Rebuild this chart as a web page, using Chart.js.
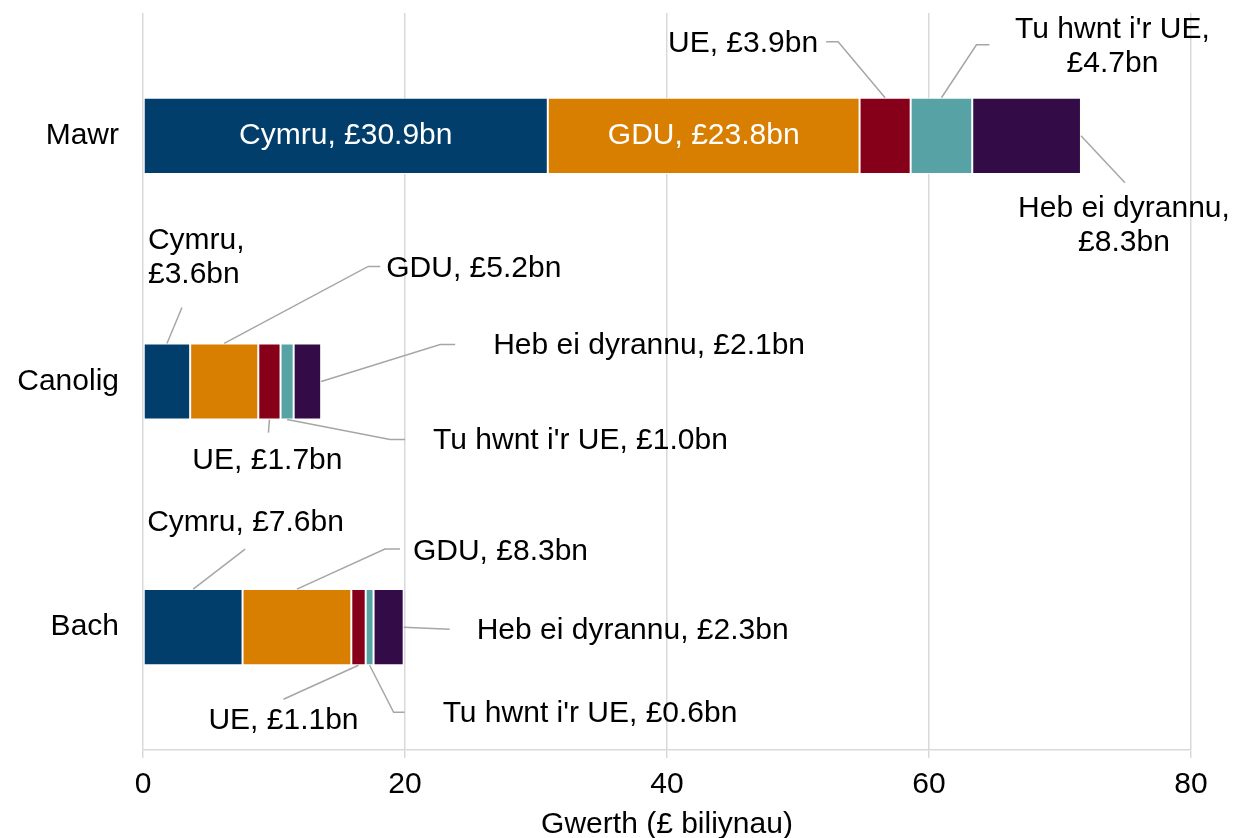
<!DOCTYPE html>
<html>
<head>
<meta charset="utf-8">
<script src="https://cdn.jsdelivr.net/npm/chart.js@4"></script>
<style>
  html, body { margin: 0; padding: 0; background: #fff; }
  #wrap { width: 1244px; height: 838px; }
</style>
</head>
<body>
<div id="wrap"><canvas id="chart" width="1244" height="838"></canvas></div>
<script>
// Categories and series
const categories = ["Mawr", "Canolig", "Bach"];
const seriesNames = ["Cymru", "GDU", "UE", "Tu hwnt i'r UE", "Heb ei dyrannu"];
const cymru = [30.9, 3.6, 7.6];
const gdu = [23.8, 5.2, 8.3];
const ue = [3.9, 1.7, 1.1];
const tuHwnt = [4.7, 1.0, 0.6];
const hebDyrannu = [8.3, 2.1, 2.3];
const xTicks = [0, 20, 40, 60, 80];

const seriesValues = [cymru, gdu, ue, tuHwnt, hebDyrannu];
const colours = ["#023e6b", "#d87e00", "#870019", "#57a2a4", "#330c47"];

// Label placement (pixel offsets from an anchor on each segment)
// anchor: inside | top | bottom | end
const labelLayout = [
  // Cymru
  [
    { anchor: "inside", text: [0, 0], align: "center", color: "#fff" },
    { anchor: "top", path: [[15, -36]], text: [-19, -103], align: "left", wrap: true },
    { anchor: "top", path: [[52, -40]], text: [-46, -66], align: "left" }
  ],
  // GDU
  [
    { anchor: "inside", text: [0, 0], align: "center", color: "#fff" },
    { anchor: "top", path: [[144, -77], [156, -77]], text: [162, -75], align: "left" },
    { anchor: "top", path: [[88, -40], [103, -40]], text: [116, -37], align: "left" }
  ],
  // UE
  [
    { anchor: "top", path: [[-47, -56], [-59, -56]], text: [-67, -54], align: "right" },
    { anchor: "bottom", path: [[-1, 13]], text: [-2, 41], align: "center" },
    { anchor: "bottom", path: [[-75, 34]], text: [-75, 55], align: "center" }
  ],
  // Tu hwnt i'r UE
  [
    { anchor: "top", path: [[35, -53], [48, -53]], text: [171, -68], align: "center", wrap: true },
    { anchor: "bottom", path: [[103, 20], [118, 20]], text: [146, 21], align: "left" },
    { anchor: "bottom", path: [[24, 47], [35, 47]], text: [73, 48], align: "left" }
  ],
  // Heb ei dyrannu
  [
    { anchor: "end", path: [[44, 47]], text: [43, 73], align: "center", wrap: true },
    { anchor: "end", path: [[119, -37], [134, -37]], text: [172, -36], align: "left" },
    { anchor: "end", path: [[46, 2]], text: [73, 4], align: "left" }
  ]
];

const FONT = "Liberation Sans, Arial, sans-serif";

const calloutPlugin = {
  id: "callouts",
  afterDatasetsDraw(chart) {
    const ctx = chart.ctx;
    ctx.save();
    ctx.font = "30px " + FONT;
    ctx.textBaseline = "middle";
    chart.data.datasets.forEach((ds, i) => {
      const meta = chart.getDatasetMeta(i);
      meta.data.forEach((bar, j) => {
        const p = bar.getProps(["x", "y", "base", "height"], true);
        const lay = labelLayout[i][j];
        const mid = (p.x + p.base) / 2;
        let ax = mid, ay = p.y;
        if (lay.anchor === "top") ay = p.y - p.height / 2;
        if (lay.anchor === "bottom") ay = p.y + p.height / 2;
        if (lay.anchor === "end") ax = p.x;

        if (lay.path) {
          ctx.strokeStyle = "#a6a6a6";
          ctx.lineWidth = 1.5;
          ctx.beginPath();
          ctx.moveTo(ax, ay);
          lay.path.forEach(pt => ctx.lineTo(ax + pt[0], ay + pt[1]));
          ctx.stroke();
        }

        const val = "£" + ds.data[j].toFixed(1) + "bn";
        const lines = lay.wrap ? [ds.label + ",", val] : [ds.label + ", " + val];
        ctx.fillStyle = lay.color || "#000";
        ctx.textAlign = lay.align;
        lines.forEach((t, k) => {
          ctx.fillText(t, ax + lay.text[0], ay + lay.text[1] + k * 34);
        });
      });
    });
    ctx.restore();
  }
};

const datasets = seriesNames.map((name, i) => ({
  label: name,
  data: seriesValues[i],
  backgroundColor: colours[i],
  borderColor: "#ffffff",
  borderWidth: 1,
  borderSkipped: false,
  barPercentage: 0.31,
  categoryPercentage: 1.0
}));

new Chart(document.getElementById("chart"), {
  type: "bar",
  data: { labels: categories, datasets: datasets },
  options: {
    indexAxis: "y",
    responsive: false,
    animation: false,
    layout: { padding: { top: 13, right: 53, left: 0, bottom: 0 } },
    plugins: {
      legend: { display: false },
      tooltip: { enabled: false }
    },
    scales: {
      x: {
        stacked: true,
        min: 0,
        max: 80,
        afterBuildTicks: axis => { axis.ticks = xTicks.map(v => ({ value: v })); },
        afterFit: axis => { axis.height = 88; },
        grid: { color: "#d9d9d9", lineWidth: 1.5, drawTicks: true, tickLength: 8, tickColor: "#d9d9d9" },
        border: { display: true, color: "#d9d9d9", width: 1.5 },
        ticks: { color: "#000", padding: 9, font: { family: FONT, size: 30 } },
        title: {
          display: true,
          text: "Gwerth (£ biliynau)",
          color: "#000",
          padding: { top: 0, bottom: -5 },
          font: { family: FONT, size: 30 }
        }
      },
      y: {
        stacked: true,
        afterFit: axis => { axis.width = 143; axis.paddingTop = 0; axis.paddingBottom = 0; },
        grid: { display: false },
        border: { display: false },
        ticks: { color: "#000", padding: 16, font: { family: FONT, size: 30 } }
      }
    }
  },
  plugins: [calloutPlugin]
});
</script>
</body>
</html>
